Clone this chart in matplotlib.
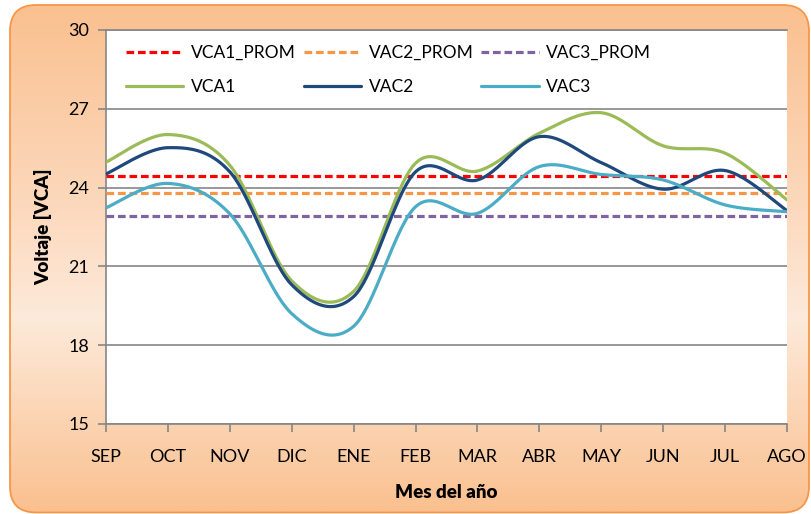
import matplotlib
matplotlib.use("Agg")
import matplotlib.pyplot as plt
import numpy as np
from matplotlib.patches import FancyBboxPatch
from matplotlib.colors import LinearSegmentedColormap


# =========================================
#   DATOS
# =========================================

meses = ["SEP", "OCT", "NOV", "DIC", "ENE", "FEB",
         "MAR", "ABR", "MAY", "JUN", "JUL", "AGO"]

vca1 = [24.97, 26.02, 24.85, 20.45, 20.05, 24.93,
        24.63, 26.07, 26.85, 25.59, 25.31, 23.53]
vac2 = [24.52, 25.52, 24.60, 20.30, 19.85, 24.60,
        24.29, 25.94, 24.95, 23.94, 24.65, 23.12]
vac3 = [23.23, 24.16, 23.00, 19.20, 18.72, 23.27,
        23.02, 24.80, 24.50, 24.29, 23.34, 23.08]

# promedios anuales
vca1_prom = 24.45
vac2_prom = 23.80
vac3_prom = 22.92

y_ticks = [15, 18, 21, 24, 27, 30]


# =========================================
#   HELPERS
# =========================================

def suavizar(valores, n=40):
    """Curva suavizada tipo Excel (Bezier con tangentes Catmull-Rom)."""
    pts = np.column_stack([np.arange(len(valores), dtype=float),
                           np.asarray(valores, dtype=float)])
    t = np.linspace(0, 1, n)[:, None]
    tramos = []
    for i in range(len(pts) - 1):
        p0 = pts[max(i - 1, 0)]
        p1 = pts[i]
        p2 = pts[i + 1]
        p3 = pts[min(i + 2, len(pts) - 1)]
        c1 = p1 + (p2 - p0) / 6
        c2 = p2 - (p3 - p1) / 6
        b = ((1 - t) ** 3) * p1 + 3 * ((1 - t) ** 2) * t * c1 \
            + 3 * (1 - t) * t ** 2 * c2 + t ** 3 * p2
        tramos.append(b if i == 0 else b[1:])
    curva = np.vstack(tramos)
    return curva[:, 0], curva[:, 1]


# =========================================
#   FIGURA
# =========================================

plt.rcParams["font.family"] = ["Lato", "DejaVu Sans"]
W, H = 812, 514
fig = plt.figure(figsize=(W / 100, H / 100), dpi=100)
fig.patch.set_facecolor("white")

# fondo con degradado y esquinas redondeadas
ax_bg = fig.add_axes([0, 0, 1, 1], zorder=-1)
ax_bg.set_xlim(0, W)
ax_bg.set_ylim(0, H)
ax_bg.axis("off")
caja = FancyBboxPatch((10, 1.5), 799, 507.5,
                      boxstyle="round,pad=0,rounding_size=26",
                      facecolor="none", edgecolor="#F79646", linewidth=1.3)
cmap_fondo = LinearSegmentedColormap.from_list(
    "fondo", [(0.0, "#FAC08F"), (0.40, "#FCD9BD"), (0.62, "#FDEADA"), (1.0, "#FAC08F")])
grad = np.linspace(0, 1, 256)[:, None]
img = ax_bg.imshow(grad, cmap=cmap_fondo, aspect="auto",
                   extent=(10, 809, 1.5, 509), origin="upper")
ax_bg.add_patch(caja)
img.set_clip_path(caja)

# área de trazado
ax = fig.add_axes([106 / W, 1 - 424 / H, 681 / W, 394 / H])
ax.set_facecolor("white")

gris = "#868686"
x = np.arange(len(meses))

lineas_prom = []
for valor, color, nombre in [(vca1_prom, "#FF0000", "VCA1_PROM"),
                             (vac2_prom, "#F79646", "VAC2_PROM"),
                             (vac3_prom, "#8064A2", "VAC3_PROM")]:
    ln, = ax.plot([x[0], x[-1]], [valor, valor], color=color, linewidth=2.3,
                  linestyle=(0, (2.4, 1.2)), label=nombre, zorder=3)
    lineas_prom.append(ln)

lineas = []
for serie, color, nombre in [(vca1, "#9BBB59", "VCA1"),
                             (vac2, "#1F497D", "VAC2"),
                             (vac3, "#4BACC6", "VAC3")]:
    xs, ys = suavizar(serie)
    ln, = ax.plot(xs, ys, color=color, linewidth=2.3, label=nombre,
                  solid_capstyle="round", zorder=4)
    lineas.append(ln)

ax.set_xlim(x[0], x[-1])
ax.set_ylim(y_ticks[0], y_ticks[-1])
ax.set_yticks(y_ticks)
ax.set_xticks(x)
ax.set_xticklabels(meses)

ax.grid(axis="y", color=gris, linewidth=1.2, zorder=1)
ax.set_axisbelow(True)
ax.spines["right"].set_visible(False)
for lado in ["left", "bottom", "top"]:
    ax.spines[lado].set_color(gris)
    ax.spines[lado].set_linewidth(1.2)

ax.tick_params(axis="both", direction="out", length=6, width=1.2,
               color=gris, labelsize=13, labelcolor="black")
ax.tick_params(axis="y", pad=6)
ax.tick_params(axis="x", pad=12)

ax.set_xlabel("Mes del año", fontsize=13.5, fontweight="heavy", va="center")
ax.xaxis.set_label_coords(0.5, (424 - 492) / 394)
ax.set_ylabel("Voltaje [VCA]", fontsize=13.5, fontweight="heavy", va="center")
ax.yaxis.set_label_coords((43 - 106) / 681, 0.5)

# leyenda: promedios arriba, series abajo
handles = []
for p, s in zip(lineas_prom, lineas):
    handles += [p, s]
ax.legend(handles=handles, labels=[h.get_label() for h in handles],
          ncol=3, frameon=False, loc="upper left",
          bbox_to_anchor=(0.029, 0.963), borderaxespad=0, borderpad=0,
          fontsize=12.5, handlelength=3.3, handletextpad=0.45,
          columnspacing=0.45, labelspacing=1.05)

fig.savefig("out.png", dpi=100)
plt.close(fig)
